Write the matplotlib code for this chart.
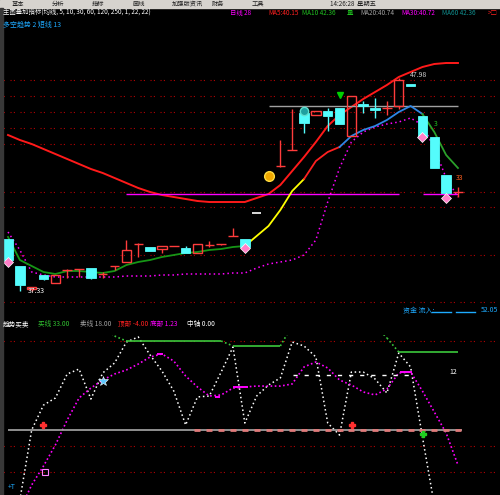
import numpy as np
import matplotlib.pyplot as plt
from matplotlib.patches import Rectangle
from matplotlib.collections import LineCollection

plt.rcParams['font.family'] = ['Noto Sans CJK SC', 'DejaVu Sans']

# K线 (开, 收, 高, 低)
opens = [39.93, 38.58, 37.43, 38.13, 37.73, 38.36, 38.41, 38.48, 38.16, 38.56,
         38.78, 39.66, 39.53, 39.43, 39.56, 39.48, 39.23, 39.61, 39.66, 40.06,
         39.93, 41.23, 43.06, 43.56, 44.38, 46.23, 46.13, 46.33, 46.48, 45.08,
         46.68, 46.48, 46.48, 46.58, 47.68, 46.08, 45.03, 43.13, 42.26]
closes = [38.88, 37.63, 37.53, 37.93, 38.13, 38.38, 38.43, 37.98, 38.18, 38.58,
          39.38, 39.68, 39.33, 39.58, 39.58, 39.23, 39.68, 39.63, 39.68, 40.08,
          39.53, 41.23, 43.08, 43.58, 44.40, 45.73, 46.33, 46.08, 45.68, 47.08,
          46.58, 46.38, 46.50, 47.88, 47.58, 45.03, 43.48, 42.23, 42.28]
highs = [39.93, 38.58, 37.53, 38.13, 38.13, 38.43, 38.43, 38.48, 38.28, 38.58,
         39.88, 39.73, 39.53, 39.58, 39.58, 39.58, 39.68, 39.83, 39.68, 40.48,
         39.93, 41.23, 43.28, 44.88, 46.43, 46.23, 46.33, 46.48, 46.48, 47.08,
         46.83, 46.98, 46.83, 47.98, 47.68, 46.08, 45.03, 43.13, 42.53]
lows = [38.88, 37.33, 37.33, 37.88, 37.73, 37.98, 38.03, 37.93, 37.98, 38.38,
        38.78, 39.03, 39.33, 39.23, 39.56, 39.23, 39.23, 39.53, 39.63, 40.06,
        39.53, 41.23, 42.98, 43.53, 44.38, 45.23, 46.13, 45.33, 45.68, 45.08,
        46.23, 45.98, 46.13, 46.43, 47.58, 45.03, 43.48, 42.23, 42.03]

# 主图均线
ma_long = [45.13, 44.88, 44.68, 44.43, 44.18, 43.93, 43.68, 43.43, 43.23, 42.98,
           42.73, 42.48, 42.28, 42.13, 42.03, 41.93, 41.83, 41.78, 41.78, 41.78,
           41.78, 41.98, 42.18, 42.63, 43.33, 44.03, 44.78, 45.58, 46.13, 46.53,
           46.93, 47.28, 47.63, 48.03, 48.28, 48.53, 48.68, 48.73, 48.73]
ma_short = [40.03, 38.88, 38.58, 38.28, 38.18, 38.33, 38.33, 38.28, 38.23, 38.33,
            38.63, 38.78, 38.88, 39.03, 39.13, 39.23, 39.28, 39.38, 39.43, 39.53,
            39.58, 40.08, 40.58, 41.38, 42.33, 42.93, 43.83, 44.28, 44.53, 45.08,
            45.38, 45.58, 45.88, 46.28, 46.58, 46.18, 45.28, 44.13, 43.48]
ma_dot = [40.28, 39.38, 38.28, 38.13, 38.03, 38.03, 38.03, 38.03, 38.03, 38.03,
          38.08, 38.08, 38.08, 38.13, 38.13, 38.18, 38.18, 38.18, 38.18, 38.23,
          38.23, 38.48, 38.68, 38.78, 38.88, 39.13, 39.88, 41.78, 43.48, 44.78,
          45.28, 45.53, 45.68, 45.78, 45.98, 45.63, 44.48, 42.98, 42.03]
grid_top = [47.88, 47.08, 46.28, 45.48, 44.68, 42.28, 41.53, 39.13, 36.78]
pressure = 46.58
support = 42.18

# 副图
k_white = [-40, -21.4, 32.1, 51.1, 56.5, 74.8, 78.6, 55.7, 75.6, 83.2,
           99.2, 103.1, 89.3, 77.1, 61.8, 35.9, 57.3, 58.0, 76.3, 95.4,
           37.4, 58.0, 66.4, 71.8, 99.2, 96.2, 87.8, 37.4, 28.2, 76.3,
           76.3, 71.0, 60.3, 90.8, 80.2, 26.7, -25.0, -40.0, -50.0]
k_purple = [-40, -29, -9.9, 4.6, 20.6, 39.7, 56.5, 64.1, 70.2, 74.8,
            77.9, 82.4, 87.8, 90.1, 84.7, 73.3, 64.9, 58.0, 58.8, 64.1,
            64.9, 65.6, 65.6, 65.6, 67.2, 80.2, 84.0, 79.4, 70.2, 66.4,
            61.1, 58.8, 63.4, 75.6, 76.3, 61.8, 45.8, 29.8, 5.3]
band_green = [112, 112, 112, 112, 112, 112, 112, 112, 112, 103.8,
              100, 100, 100, 100, 100, 100, 100, 100, 100, 96.2,
              96.2, 96.2, 96.2, 96.2, 112, 112, 112, 112, 112, 112,
              112, 112, 102.3, 91.6, 91.6, 91.6, 91.6, 91.6, 91.6]
grid_low = [100, 20, 0]
mid_level = 32
mid_level2 = 74

n = len(opens)
x = np.arange(n)

fig = plt.figure(figsize=(5, 4.95), dpi=100, facecolor='black')
W, H = 500, 495


def fx(px):
    return px / W


def fy(py):
    return 1 - py / H


ax1 = fig.add_axes([0, fy(310), 1, 300 / H])
ax2 = fig.add_axes([0, 0, 1, 160 / H])
for ax in (ax1, ax2):
    ax.set_facecolor('black')
    ax.set_xlim(-0.676, 41.55)
    ax.axis('off')
ax1.set_ylim(36.38, 51.38)
ax2.set_ylim(-17.56, 104.58)

# 网格
for g in grid_top:
    ax1.axhline(g, color='#b40000', lw=0.8, ls=(0, (1, 2, 1, 5)))
for g in grid_low:
    ax2.axhline(g, color='#b40000', lw=0.8, ls=(0, (1, 2, 1, 5)))

# 均线
ax1.plot(x, ma_long, color='#ff1a1a', lw=1.4)
ax1.plot(x, ma_dot, color='#ff00ff', lw=1.1, ls=(0, (1, 2)))
ax1.hlines(pressure, 22.0, 38.0, color='#a0a0a0', lw=1)
ax1.hlines(support, 9.97, 33.0, color='#ff00ff', lw=1)
ax1.hlines(support, 35.05, 38.0, color='#ff00ff', lw=1)

pieces = [(0, 20, '#169616'), (20, 25, '#ffff00'), (25, 28, '#ff2020'),
          (28, 35, '#2f86e6'), (35, 38, '#2aa02a')]
for a, b, col in pieces:
    ax1.plot(x[a:b + 1], ma_short[a:b + 1], color=col, lw=1.3)

# K线
for i in range(n):
    o, c, h, l = opens[i], closes[i], highs[i], lows[i]
    top, bot = max(o, c), min(o, c)
    if c > o:
        col = '#ff3c3c'
        ax1.add_patch(Rectangle((i - 0.4, bot), 0.8, top - bot, fill=False,
                                edgecolor=col, lw=1, zorder=3))
    elif c < o:
        col = '#54fcfc'
        ax1.add_patch(Rectangle((i - 0.4, bot), 0.8, top - bot,
                                facecolor=col, edgecolor=col, lw=0.6, zorder=3))
    else:
        col = 'white'
        ax1.hlines(c, i - 0.4, i + 0.4, color=col, lw=1.2, zorder=3)
    ax1.vlines(i, top, h, color=col, lw=1, zorder=3)
    ax1.vlines(i, l, bot, color=col, lw=1, zorder=3)

# 信号图标
ax1.plot([0, 20, 35, 37], [38.78, 39.48, 45.03, 41.98], 'D', color='#ff7fc8',
         mec='white', mew=0.5, ms=5, zorder=5)
ax1.plot(22, 43.08, 'o', color='#f0a800', mec='#ffdd40', ms=7, zorder=5)
ax1.plot(25, 46.33, 'o', color='#20a0a0', mec='#60e0d0', ms=6, zorder=5)
ax1.plot(28, 47.13, 'v', color='#00d000', ms=4.5, zorder=5)
ax1.text(1.7, 37.33, '37.33', color='white', fontsize=5, va='center')
ax1.text(33.9, 48.13, '47.98', color='#d0d0d0', fontsize=5, va='center')
ax1.text(37.8, 43.0, '33', color='#ff6020', fontsize=5, va='center')
ax1.text(36.0, 45.7, '3', color='#20c020', fontsize=5, va='center')

# 副图
ax2.plot(x, k_white, color='white', lw=1.1, ls=(0, (1, 1.8)))
ax2.plot(x, k_purple, color='#ff00ff', lw=1.2, ls=(0, (1, 1.5)))
gv = np.array(band_green)
segs_flat, segs_slope = [], []
for i in range(n - 1):
    seg = [(i, gv[i]), (i + 1, gv[i + 1])]
    (segs_flat if gv[i] == gv[i + 1] else segs_slope).append(seg)
ax2.add_collection(LineCollection(segs_flat, colors='#3cc83c', lw=1.2))
ax2.add_collection(LineCollection(segs_slope, colors='#3cc83c', lw=1.2,
                                  linestyles=[(0, (1, 1.5))]))
ax2.hlines(mid_level, 0, 38.3, color='#a8a8a8', lw=1.2)
ax2.plot(x[16:], [mid_level] * (n - 16), '_', color='#e07a7a', ms=4, mew=2)
ax2.hlines(mid_level2, 24.07, 34.4, color='white', lw=1, ls=(0, (3, 5)))
for a, b, v in [(12.6, 13.1, 90.1), (17.5, 17.9, 57.3), (19.0, 20.3, 64.9),
                (33.1, 34.1, 76.3)]:
    ax2.hlines(v, a, b, color='#ff00ff', lw=1.4)
ax2.plot(2.96, 35.9, 'P', color='#ff3030', ms=5)
ax2.plot(29.05, 35.9, 'P', color='#ff3030', ms=5)
ax2.plot(35.05, 29.0, 'P', color='#20d020', ms=5)
ax2.plot(8.02, 69.5, '*', color='#60c8ff', mec='white', mew=0.4, ms=7)
ax2.plot(3.1, 0, 's', color='none', mec='#ff80ff', ms=4, mew=0.8)
ax2.text(37.3, 76.3, '12', color='white', fontsize=5, va='center')

# 顶部栏与文字
fig.patches.append(Rectangle((0, fy(8)), 1, 8 / H, transform=fig.transFigure,
                             color='#d6d3ce', zorder=0))
fig.patches.append(Rectangle((0, 0), fx(3), fy(8), transform=fig.transFigure,
                             color='#383838', zorder=0))
menu = ['基本', '分析', '指标', '画线', '加强版资讯', '财务', '工具']
for k, m in enumerate(menu):
    fig.text(fx(12 + k * 40), fy(3.5), m, color='#202020', fontsize=4.5,
             va='center')
fig.text(fx(330), fy(3.5), '14:26:28  星期五', color='#202020', fontsize=4.5,
         va='center')

top_row = [(3, '主图叠加指标(均线, 5, 10, 30, 60, 120, 250, 1, 22, 22)', 'white'),
           (230, '日线 28', '#ff00ff'), (268, 'MA5:40.15', '#ff2020'),
           (302, 'MA10 42.36', '#20c020'), (347, '量', '#20c020'),
           (360, 'MA20:40.74', '#a0a0a0'), (401, 'MA30:40.72', '#ff00ff'),
           (442, 'MA60 42.36', '#109090'), (488, '>□', '#ff2020')]
for px, s, col in top_row:
    fig.text(fx(px), fy(13), s, color=col, fontsize=4.6, va='center')
fig.text(fx(3), fy(25), '多空趋势 2 短线 13', color='#1eaaff', fontsize=5,
         va='center')

low_row = [(3, '趋势买卖', 'white'), (38, '买线 33.00', '#30c030'),
           (80, '卖线 18.00', '#a0a0a0'), (118, '顶部 -4.00', '#ff2020'),
           (150, '底部 1.23', '#ff00ff'), (187, '中轴 0.00', 'white')]
for px, s, col in low_row:
    fig.text(fx(px), fy(324), s, color=col, fontsize=4.8, va='center')

fig.text(fx(403), fy(310), '资金 流入:', color='#1eaaff', fontsize=5,
         va='center')
fig.add_artist(plt.Line2D([fx(432), fx(451)], [fy(312), fy(312)],
                          color='#1eaaff', lw=1))
fig.add_artist(plt.Line2D([fx(456), fx(475)], [fy(312), fy(312)],
                          color='#1eaaff', lw=1))
fig.text(fx(481), fy(310), '52.05', color='#1eaaff', fontsize=5, va='center')
fig.text(fx(8), fy(487), '+T', color='#1eaaff', fontsize=5, va='center')

fig.savefig('out.png', dpi=100, facecolor='black')
